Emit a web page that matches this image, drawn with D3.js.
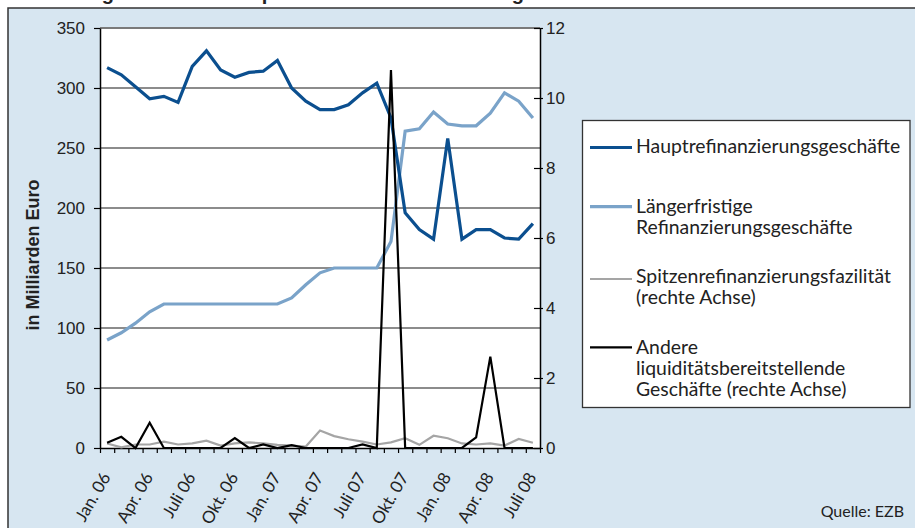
<!DOCTYPE html>
<html>
<head>
<meta charset="utf-8">
<script src="https://cdn.jsdelivr.net/npm/d3@7"></script>
<style>
  html, body { margin: 0; padding: 0; background: #ffffff; }
  svg { display: block; }
</style>
</head>
<body>
<svg id="chart" width="915" height="528"></svg>
<script>
// ---------------- data ----------------
const months = ["Jan. 06","Feb. 06","März 06","Apr. 06","Mai 06","Juni 06","Juli 06","Aug. 06","Sep. 06","Okt. 06","Nov. 06","Dez. 06",
                "Jan. 07","Feb. 07","März 07","Apr. 07","Mai 07","Juni 07","Juli 07","Aug. 07","Sep. 07","Okt. 07","Nov. 07","Dez. 07",
                "Jan. 08","Feb. 08","März 08","Apr. 08","Mai 08","Juni 08","Juli 08"];
const tickLabels = ["Jan. 06","Apr. 06","Juli 06","Okt. 06","Jan. 07","Apr. 07","Juli 07","Okt. 07","Jan. 08","Apr. 08","Juli 08"];
const hauptrefi = [317,311,301,291,293,288,318,331,315,309,313,314,323,300,289,282,282,286,296,304,275,196,182,174,258,174,182,182,175,174,187];
const laengerfristig = [90,96,104,113.5,120,120,120,120,120,120,120,120,120,125,136,146,150,150,150,150,172,264,266,280,270,268.5,268.5,279,296,289,275];
const spitzenrefi = [0.13,0.02,0.1,0.1,0.18,0.1,0.13,0.21,0.07,0.13,0.16,0.13,0.09,0.07,0.04,0.5,0.34,0.25,0.18,0.1,0.16,0.28,0.09,0.35,0.28,0.13,0.1,0.13,0.07,0.26,0.15];
const andere = [0.15,0.32,0,0.72,0,0,0,0,0,0.28,0,0.1,0,0.08,0,0,0,0,0.1,0,10.8,0,0,0,0,0,0.3,2.61,0,0,0];
const leftTicks = [0,50,100,150,200,250,300,350];
const rightTicks = [0,2,4,6,8,10,12];
const seriesNames = ["Hauptrefinanzierungsgeschäfte",
                     "Längerfristige\nRefinanzierungsgeschäfte",
                     "Spitzenrefinanzierungsfazilität\n(rechte Achse)",
                     "Andere\nliquiditätsbereitstellende\nGeschäfte (rechte Achse)"];

// ---------------- layout ----------------
const svg = d3.select("#chart");
const L = 100, R = 540, T = 28, B = 448;
const colors = ["#0b4f8f", "#7aa3c9", "#a5a5a5", "#000000"];
const widths = [3.2, 3.2, 2.2, 2.2];

// frame (title is cut at the top edge, as in the original)
svg.append("text").attr("x", 15).attr("y", -0.5).attr("font-family", "Liberation Sans, Arial, sans-serif")
  .attr("font-weight", "bold").attr("font-size", 20).attr("fill", "#222")
  .text("Abbildung 7: Offenmarktoperationen der EZB im Vergleich");
svg.append("rect").attr("x", 8).attr("y", 8).attr("width", 930).attr("height", 540)
  .attr("fill", "#d7e6f1").attr("stroke", "#333").attr("stroke-width", 1.5);

// plot area
svg.append("rect").attr("x", L).attr("y", T).attr("width", R - L).attr("height", B - T).attr("fill", "#fff");

const band = d3.scaleBand().domain(months).range([L, R]).paddingInner(0).paddingOuter(0);
const xc = m => band(m) + band.bandwidth() / 2;
const xEdge = d3.scaleLinear().domain([0, months.length]).range([L, R]);
const yL = d3.scaleLinear().domain([0, 350]).range([B, T]);
const yR = d3.scaleLinear().domain([0, 12]).range([B, T]);

// gridlines
svg.append("g").selectAll("line").data(leftTicks.filter(v => v > 0)).join("line")
  .attr("x1", L).attr("x2", R).attr("y1", d => yL(d)).attr("y2", d => yL(d))
  .attr("stroke", d => d === 350 ? "#7a7a7a" : "#1a1a1a").attr("stroke-width", d => d === 350 ? 2 : 1.2);

// left axis
const gL = svg.append("g").attr("transform", `translate(${L},0)`)
  .call(d3.axisLeft(yL).tickValues(leftTicks).tickSize(6).tickPadding(9).tickSizeOuter(0));
gL.select(".domain").attr("stroke", "#000").attr("stroke-width", 1.5);
gL.selectAll(".tick line").attr("stroke", "#000").attr("stroke-width", 1.2);
gL.selectAll(".tick text").attr("font-family", "Liberation Sans, Arial, sans-serif").attr("font-size", 17).attr("fill", "#222");

// right axis
const gR = svg.append("g").attr("transform", `translate(${R},0)`)
  .call(d3.axisRight(yR).tickValues(rightTicks).tickSize(3).tickPadding(3).tickSizeOuter(0));
gR.select(".domain").attr("stroke", "#000").attr("stroke-width", 1.5);
gR.selectAll(".tick line").attr("x1", -6).attr("stroke", "#000").attr("stroke-width", 1.2);
gR.selectAll(".tick text").attr("font-family", "Liberation Sans, Arial, sans-serif").attr("font-size", 17).attr("fill", "#222");

// bottom axis (ticks at month boundaries)
const gB = svg.append("g").attr("transform", `translate(0,${B})`)
  .call(d3.axisBottom(xEdge).tickValues(d3.range(0, months.length + 1)).tickSize(5).tickFormat("").tickSizeOuter(0));
gB.select(".domain").attr("stroke", "#000").attr("stroke-width", 1.5);
gB.selectAll(".tick line").attr("stroke", "#000").attr("stroke-width", 1.2);

// x labels
svg.append("g").selectAll("text").data(tickLabels).join("text")
  .attr("transform", d => `translate(${xc(d) + 4},${477}) rotate(-60)`)
  .attr("text-anchor", "end")
  .attr("font-family", "Lato, Open Sans, sans-serif").attr("font-size", 17).attr("fill", "#222")
  .text(d => d);

// y title
svg.append("text").attr("transform", `translate(39,255) rotate(-90)`).attr("text-anchor", "middle")
  .attr("font-family", "Liberation Sans, Arial, sans-serif").attr("font-weight", "bold").attr("font-size", 18).attr("fill", "#222")
  .text("in Milliarden Euro");

// lines
const lineL = d3.line().x((d, i) => xc(months[i])).y(d => yL(d));
const lineR = d3.line().x((d, i) => xc(months[i])).y(d => yR(d));
const defs = [[laengerfristig, lineL, 1], [hauptrefi, lineL, 0], [spitzenrefi, lineR, 2], [andere, lineR, 3]];
defs.forEach(([data, gen, k]) => {
  svg.append("path").datum(data).attr("d", gen).attr("fill", "none")
    .attr("stroke", colors[k]).attr("stroke-width", widths[k]).attr("stroke-linejoin", "miter").attr("stroke-miterlimit", 4);
});

// legend
svg.append("rect").attr("x", 582.5).attr("y", 120.5).attr("width", 327.5).attr("height", 287)
  .attr("fill", "#fff").attr("stroke", "#333").attr("stroke-width", 1.3);
const legY = [147.5, 206.7, 279, 347.3];
const legBase = [153, 213, 283, 354];
seriesNames.forEach((name, k) => {
  svg.append("line").attr("x1", 590).attr("x2", 632).attr("y1", legY[k]).attr("y2", legY[k])
    .attr("stroke", colors[k]).attr("stroke-width", widths[k]);
  const t = svg.append("text").attr("x", 636).attr("y", legBase[k])
    .attr("font-family", "Lato, Open Sans, sans-serif").attr("font-size", 19.4).attr("fill", "#222");
  name.split("\n").forEach((ln, j) => {
    t.append("tspan").attr("x", 636).attr("dy", j === 0 ? 0 : 21).text(ln);
  });
});

// source
svg.append("text").attr("x", 904).attr("y", 517).attr("text-anchor", "end")
  .attr("font-family", "Lato, Open Sans, sans-serif").attr("font-size", 16).attr("fill", "#222")
  .text("Quelle: EZB");
</script>
</body>
</html>
